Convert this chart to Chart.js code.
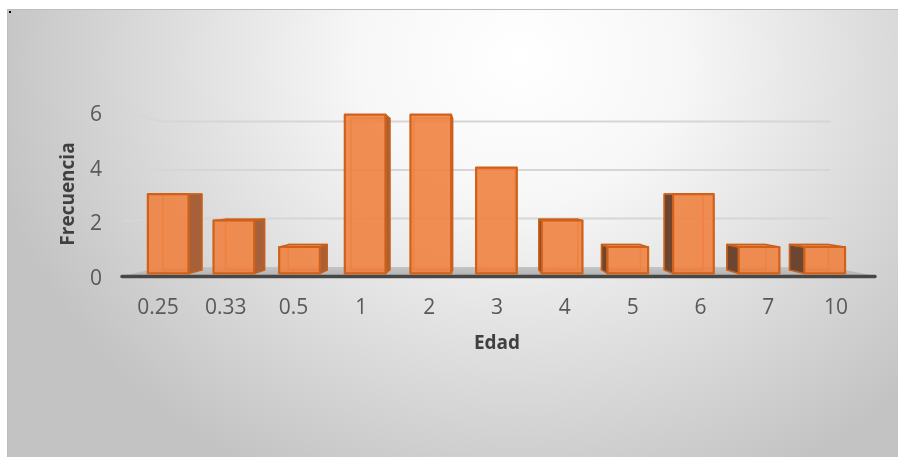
<!DOCTYPE html>
<html>
<head>
<meta charset="utf-8">
<script src="https://cdn.jsdelivr.net/npm/chart.js@4"></script>
<style>
  html, body { margin: 0; padding: 0; background: #ffffff; }
  #wrap { width: 898px; height: 457px; }
</style>
</head>
<body>
<div id="wrap"><canvas id="c" width="898" height="457"></canvas></div>
<script>
// Age groups and how many cases fall in each
const edades = ['0.25', '0.33', '0.5', '1', '2', '3', '4', '5', '6', '7', '10'];
const frecuencia = [3, 2, 1, 6, 6, 4, 2, 1, 3, 1, 1];
const yTicks = [0, 2, 4, 6];

// Simple one-point perspective for the 3-D look
const view = {
  vpShiftX: -17,     // vanishing point relative to plot centre
  vpValue: 2.93,     // eye height, in axis units
  sFront: 0.968,     // depth of the bar front faces
  sBack: 0.924,      // depth of the bar back faces
  sWall: 0.887,      // depth of the back wall
  floorExtraL: 2,
  floorExtraR: 5
};

function vanishing(chart) {
  const a = chart.chartArea;
  return { x: (a.left + a.right) / 2 + view.vpShiftX, y: chart.scales.y.getPixelForValue(view.vpValue) };
}
function proj(vp, x, y, s) {
  return [vp.x + (x - vp.x) * s, vp.y + (y - vp.y) * s];
}
function poly(ctx, pts) {
  ctx.beginPath();
  ctx.moveTo(pts[0][0], pts[0][1]);
  for (let i = 1; i < pts.length; i++) ctx.lineTo(pts[i][0], pts[i][1]);
  ctx.closePath();
}

const backdrop = {
  id: 'backdrop',
  beforeDraw(chart) {
    const ctx = chart.ctx;
    ctx.save();
    ctx.fillStyle = '#ffffff';
    ctx.fillRect(0, 0, chart.width, chart.height);
    ctx.beginPath();
    ctx.rect(7, 9, 891, 448);
    ctx.clip();
    const cx = 520, cy = 60, rx = 540, ry = 470;
    ctx.translate(cx, cy);
    ctx.scale(1, ry / rx);
    const g = ctx.createRadialGradient(0, 0, 0, 0, 0, rx);
    g.addColorStop(0, '#ffffff');
    g.addColorStop(0.3, '#f7f7f7');
    g.addColorStop(1, '#c3c3c3');
    ctx.fillStyle = g;
    ctx.fillRect(-2000, -2000, 4000, 4000);
    ctx.restore();
    ctx.save();
    ctx.strokeStyle = '#bdbdbd';
    ctx.lineWidth = 1;
    ctx.beginPath();
    ctx.moveTo(7.5, 457);
    ctx.lineTo(7.5, 9.5);
    ctx.lineTo(898, 9.5);
    ctx.stroke();
    ctx.fillStyle = '#000000';
    ctx.fillRect(9, 11, 2, 2);
    ctx.restore();
  }
};

const walls = {
  id: 'walls',
  beforeDatasetsDraw(chart) {
    const ctx = chart.ctx, a = chart.chartArea, y = chart.scales.y;
    const vp = vanishing(chart);
    const xl = a.left - view.floorExtraL, xr = a.right + view.floorExtraR;
    ctx.save();
    // grid lines on side and back walls
    ctx.strokeStyle = '#d6d6d6';
    ctx.lineWidth = 2;
    ctx.lineJoin = 'round';
    yTicks.forEach(v => {
      if (v === 0) return;
      const yf = y.getPixelForValue(v);
      const b1 = proj(vp, xl, yf, view.sWall);
      const b2 = proj(vp, xr, yf, view.sWall);
      ctx.beginPath();
      ctx.moveTo(xl, yf);
      ctx.lineTo(b1[0], b1[1]);
      ctx.lineTo(b2[0], b2[1]);
      ctx.stroke();
    });
    // floor
    const y0 = y.getPixelForValue(0);
    const f1 = proj(vp, xl, y0, view.sWall);
    const f2 = proj(vp, xr, y0, view.sWall);
    const fg = ctx.createLinearGradient(0, f1[1], 0, y0);
    fg.addColorStop(0, '#c4c4c4');
    fg.addColorStop(1, '#b3b3b3');
    ctx.fillStyle = fg;
    poly(ctx, [[xl, y0], f1, f2, [xr, y0]]);
    ctx.fill();
    // front edge of the floor
    ctx.strokeStyle = '#474747';
    ctx.lineWidth = 3.5;
    ctx.lineCap = 'round';
    ctx.beginPath();
    ctx.moveTo(xl, y0 + 0.5);
    ctx.lineTo(xr, y0 + 0.5);
    ctx.stroke();
    ctx.restore();
  }
};

const boxes = {
  id: 'boxes',
  afterDatasetsDraw(chart) {
    const ctx = chart.ctx;
    const vp = vanishing(chart);
    const meta = chart.getDatasetMeta(0);
    ctx.save();
    ctx.lineJoin = 'round';
    meta.data.forEach(bar => {
      const p = bar.getProps(['x', 'y', 'base', 'width'], true);
      const L = p.x - p.width / 2, R = p.x + p.width / 2, T = p.y, B = p.base;
      const fTL = proj(vp, L, T, view.sFront), fTR = proj(vp, R, T, view.sFront);
      const fBL = proj(vp, L, B, view.sFront), fBR = proj(vp, R, B, view.sFront);
      const bTL = proj(vp, L, T, view.sBack), bTR = proj(vp, R, T, view.sBack);
      const bBL = proj(vp, L, B, view.sBack), bBR = proj(vp, R, B, view.sBack);

      // hidden back edges, seen through the face
      ctx.strokeStyle = 'rgba(214,100,30,0.75)';
      ctx.lineWidth = 1.6;
      poly(ctx, [bTL, bTR, bBR, bBL]);
      ctx.stroke();

      ctx.strokeStyle = '#c9601a';
      ctx.lineWidth = 1.6;
      // side face
      if (R < vp.x) {
        poly(ctx, [fTR, bTR, bBR, fBR]);
        ctx.fillStyle = '#a6613b';
        ctx.fill();
        ctx.stroke();
      } else if (L > vp.x) {
        poly(ctx, [fTL, bTL, bBL, fBL]);
        ctx.fillStyle = '#6c4630';
        ctx.fill();
        ctx.stroke();
      }
      // top face, when the top sits below eye level
      if (T > vp.y) {
        poly(ctx, [fTL, fTR, bTR, bTL]);
        ctx.fillStyle = '#f3a46e';
        ctx.fill();
        ctx.stroke();
      }
      // front face
      poly(ctx, [fTL, fTR, fBR, fBL]);
      ctx.fillStyle = 'rgba(239,130,64,0.9)';
      ctx.fill();
      ctx.strokeStyle = '#cf611b';
      ctx.lineWidth = 2.2;
      ctx.stroke();
    });
    ctx.restore();
  }
};

const FONT = "'Open Sans', 'DejaVu Sans', sans-serif";

new Chart(document.getElementById('c'), {
  type: 'bar',
  data: {
    labels: edades,
    datasets: [{
      label: 'Frecuencia',
      data: frecuencia,
      backgroundColor: 'rgba(0,0,0,0)',
      borderWidth: 0,
      categoryPercentage: 1,
      barPercentage: 0.62
    }]
  },
  options: {
    responsive: false,
    animation: false,
    devicePixelRatio: 1,
    layout: { padding: { left: 0, top: 112, right: 28, bottom: 0 } },
    plugins: {
      legend: { display: false },
      tooltip: { enabled: false }
    },
    scales: {
      x: {
        grid: { display: false, drawTicks: false },
        border: { display: false },
        ticks: {
          color: '#595959',
          font: { family: FONT, size: 21 },
          padding: 19,
          maxRotation: 0
        },
        title: {
          display: true,
          text: 'Edad',
          color: '#404040',
          font: { family: FONT, size: 19, weight: 'bold' },
          padding: { top: 0, bottom: 102 }
        },
        afterFit(scale) { scale.height = 181; }
      },
      y: {
        min: 0,
        max: 6,
        grid: { display: false, drawTicks: false },
        border: { display: false },
        afterBuildTicks(scale) { scale.ticks = yTicks.map(v => ({ value: v })); },
        ticks: {
          color: '#595959',
          font: { family: FONT, size: 21 },
          padding: 22,
          labelOffset: 3
        },
        title: {
          display: true,
          text: 'Frecuencia',
          color: '#404040',
          font: { family: FONT, size: 19, weight: 'bold' },
          padding: { top: 57, bottom: 0 }
        },
        afterFit(scale) { scale.width = 124; }
      }
    }
  },
  plugins: [backdrop, walls, boxes]
});
</script>
</body>
</html>
